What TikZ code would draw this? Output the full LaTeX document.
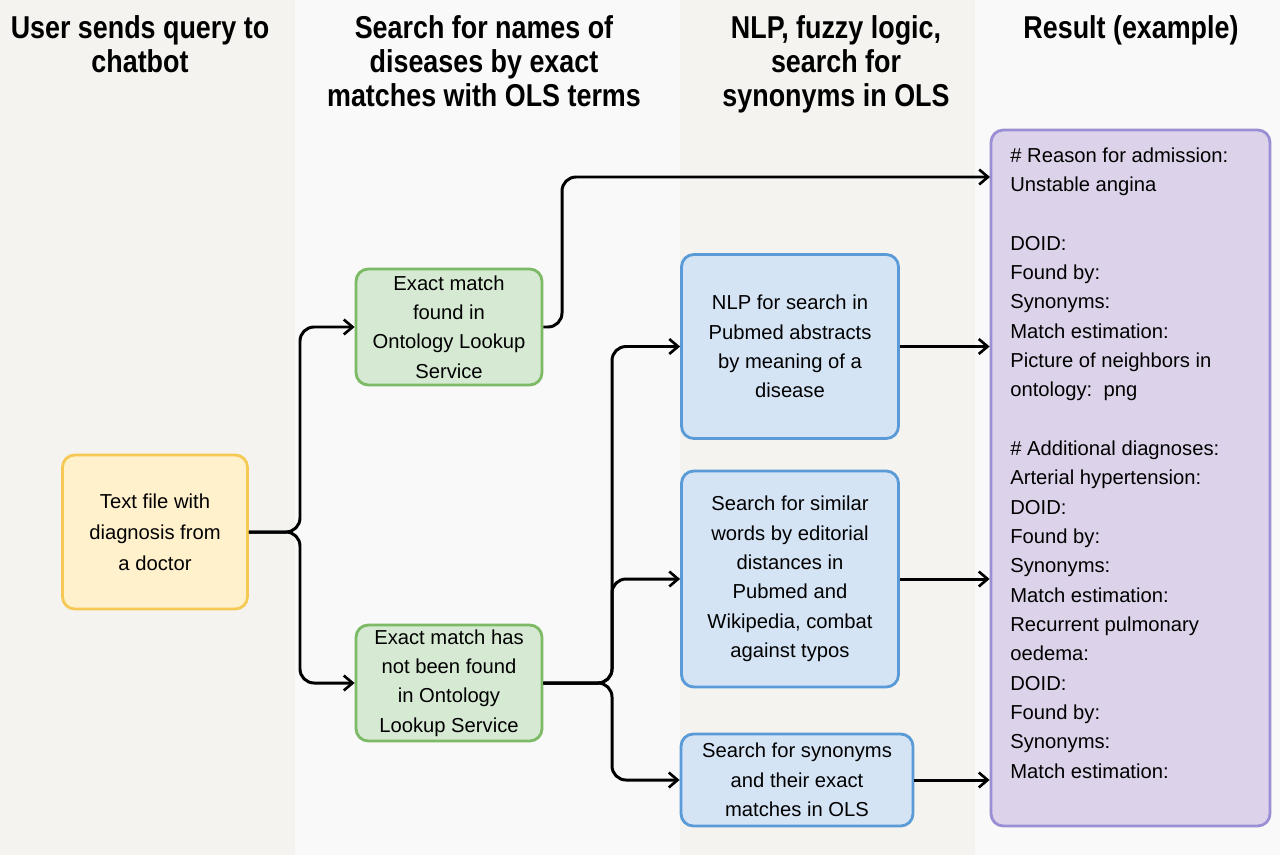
\documentclass[tikz,border=0pt]{standalone}
\usepackage{fontspec}
\setmainfont{Liberation Sans}
\newfontfamily\headfont[FakeStretch=0.85]{Liberation Sans}
\usetikzlibrary{arrows.meta, positioning}

\definecolor{colA}{HTML}{F4F3EF}
\definecolor{colB}{HTML}{F9F9F9}
\definecolor{yelFill}{HTML}{FFF1CC}
\definecolor{yelDraw}{HTML}{F6C955}
\definecolor{grnFill}{HTML}{D6EAD3}
\definecolor{grnDraw}{HTML}{7DBA66}
\definecolor{bluFill}{HTML}{D5E4F5}
\definecolor{bluDraw}{HTML}{5A9AD6}
\definecolor{purFill}{HTML}{DCD3EA}
\definecolor{purDraw}{HTML}{9A8ED4}

\newcommand\upx{*0.02cm}

\begin{document}
\begin{tikzpicture}[
    x=0.02cm, y=-0.02cm,
    font=\fontsize{11.5pt}{16.7pt}\selectfont,
    box/.style={rectangle, rounded corners=7pt, draw, align=center,
                line width=1.6pt, inner sep=0pt},
    head/.style={font=\headfont\bfseries\fontsize{18pt}{19.3pt}\selectfont,
                 align=center, anchor=north, inner sep=0pt},
    arr/.style={-{Straight Barb[length=5pt, width=8.5pt, line width=1.5pt]},
                line width=1.7pt, rounded corners=8pt},
]
% columns
\fill[colA] (0,0) rectangle (295,855);
\fill[colB] (295,0) rectangle (680,855);
\fill[colA] (680,0) rectangle (975,855);
\fill[colB] (975,0) rectangle (1280,855);
\useasboundingbox (0,0) rectangle (1280,855);

\node[head] (h1) at (140,15) {User sends query to\\chatbot};
\node[head] (h2) at (484,15) {Search for names of\\diseases by exact\\matches with OLS terms};
\node[head] (h3) at (836,15) {NLP, fuzzy logic,\\search for\\synonyms in OLS};
\node[head] (h4) at (1131,15) {Result (example)};

% boxes
\node[box, fill=yelFill, draw=yelDraw, minimum width=185\upx, minimum height=154\upx,
      font=\fontsize{11.5pt}{17.6pt}\selectfont]
    (doc) at (155,532) {Text file with\\diagnosis from\\a doctor};
\node[box, fill=grnFill, draw=grnDraw, minimum width=186\upx, minimum height=116\upx]
    (found) at (449,327) {Exact match\\found in\\Ontology Lookup\\Service};
\node[box, fill=grnFill, draw=grnDraw, minimum width=186\upx, minimum height=116\upx]
    (notfound) at (449,683) {Exact match has\\not been found\\in Ontology\\Lookup Service};
\node[box, fill=bluFill, draw=bluDraw, minimum width=217\upx, minimum height=184\upx]
    (nlp) at (790,346.5) {NLP for search in\\Pubmed abstracts\\by meaning of a\\disease};
\node[box, fill=bluFill, draw=bluDraw, minimum width=217\upx, minimum height=216\upx]
    (similar) at (790,579) {Search for similar\\words by editorial\\distances in\\Pubmed and\\Wikipedia, combat\\against typos};
\node[box, fill=bluFill, draw=bluDraw, minimum width=232\upx, minimum height=92\upx]
    (synonyms) at (797,780) {Search for synonyms\\and their exact\\matches in OLS};
\node[box, fill=purFill, draw=purDraw, minimum width=279\upx, minimum height=696\upx]
    (result) at (1130.5,478) {};
\node[anchor=north west, align=left, inner sep=0pt]
    (restext) at (1010,147) {\# Reason for admission:\\Unstable angina\\\mbox{}\\DOID:\\Found by:\\Synonyms:\\Match estimation:\\Picture of neighbors in\\ontology:\ \ png\\\mbox{}\\\# Additional diagnoses:\\Arterial hypertension:\\DOID:\\Found by:\\Synonyms:\\Match estimation:\\Recurrent pulmonary\\oedema:\\DOID:\\Found by:\\Synonyms:\\Match estimation:};

\coordinate (in1) at (990,177);

% connectors
\draw[arr] (doc.east) -- (300,532) |- (found.west);
\draw[arr] (doc.east) -- (300,532) |- (notfound.west);
\draw[arr] (found.east) -- (562,327) |- (in1);
\draw[arr] (notfound.east) -- (612,683) |- (nlp.west);
\draw[arr] (notfound.east) -- (612,683) |- (similar.west);
\draw[arr] (notfound.east) -- (612,683) |- (synonyms.west);
\draw[arr] (nlp.east) -- (result.west |- nlp.east);
\draw[arr] (similar.east) -- (result.west |- similar.east);
\draw[arr] (synonyms.east) -- (result.west |- synonyms.east);
\end{tikzpicture}
\end{document}
